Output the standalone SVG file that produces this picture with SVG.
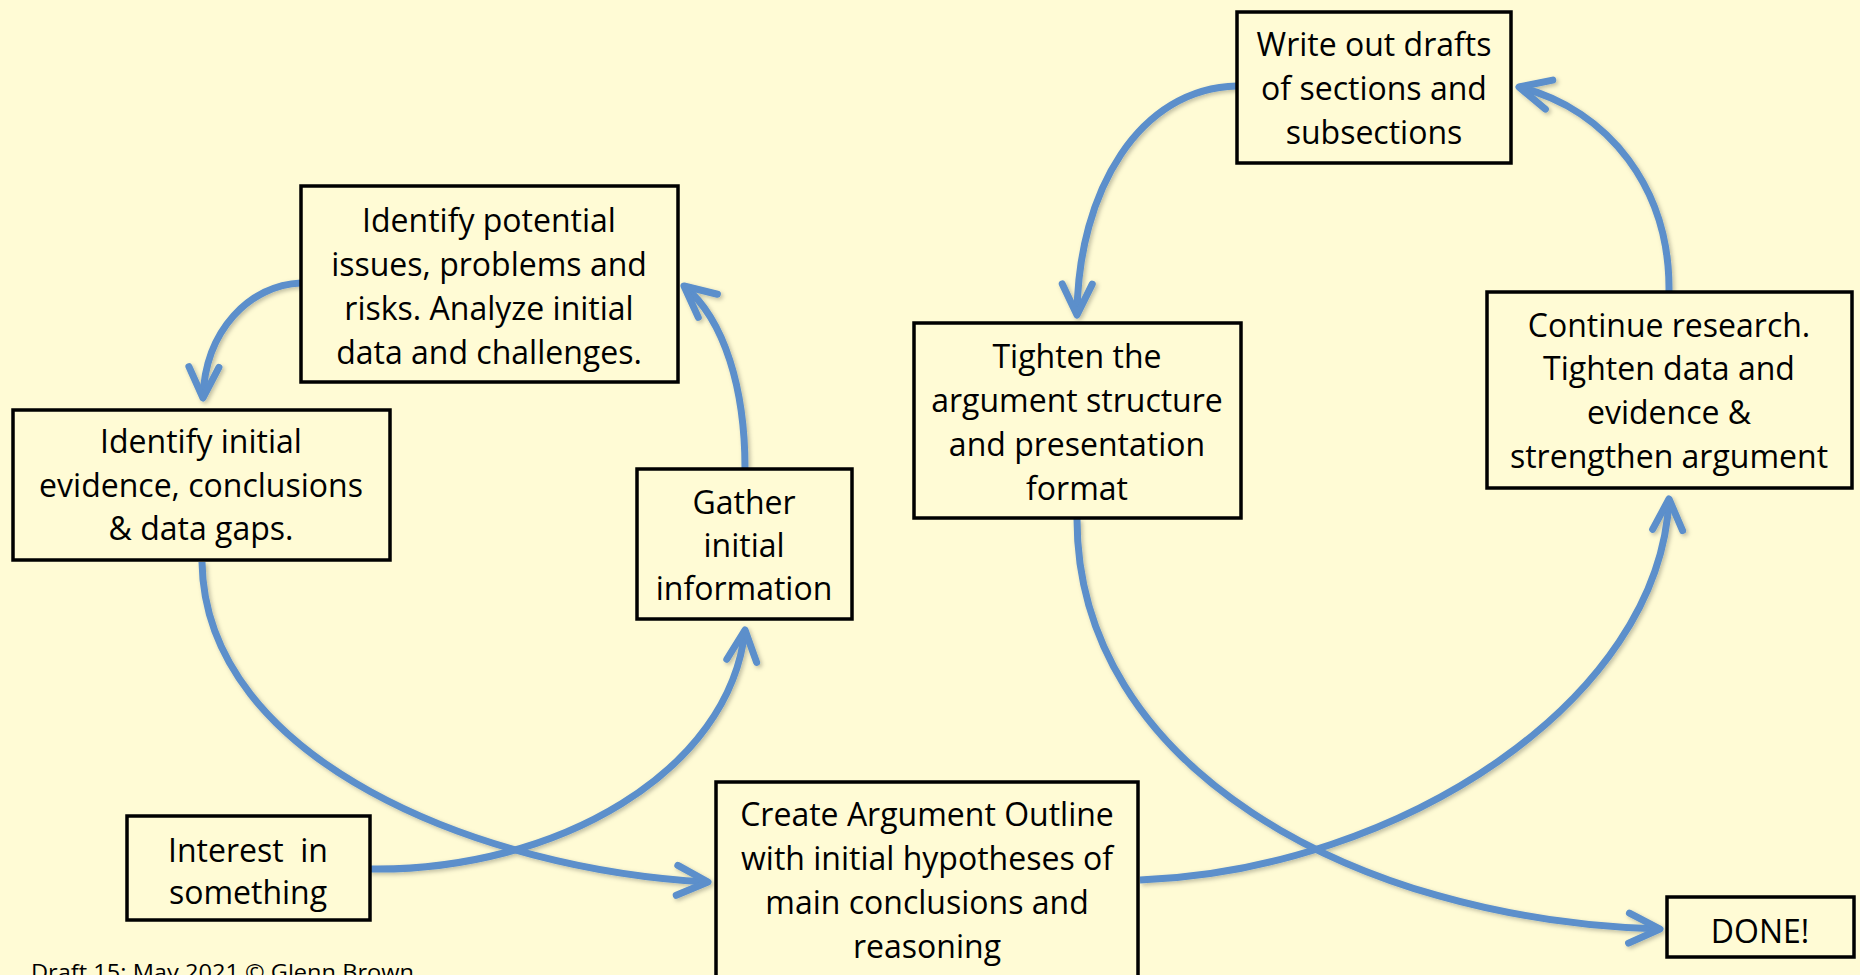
<svg xmlns="http://www.w3.org/2000/svg" width="1860" height="975" viewBox="0 0 1860 975">
<defs>
<style>
.box{fill:#FFFBD5;stroke:#000;stroke-width:3.5}
.t{font-family:"Open Sans","Noto Sans",sans-serif;font-size:32px;fill:#000;text-anchor:middle;white-space:pre}
.c{fill:none;stroke:#5B8FCB;stroke-width:7}
</style>
<marker id="ah" markerUnits="userSpaceOnUse" orient="auto" refX="0" refY="0" markerWidth="50" markerHeight="50" viewBox="-40 -25 50 50" overflow="visible">
<path d="M-31,-15 L0,0 L-31,15" fill="none" stroke="#5B8FCB" stroke-width="7" stroke-linecap="round" stroke-linejoin="round"/>
</marker>
<filter id="sh" x="-10%" y="-10%" width="120%" height="120%">
<feDropShadow dx="2" dy="2" stdDeviation="2" flood-color="#000" flood-opacity="0.25"/>
</filter>
</defs>
<rect x="0" y="0" width="1860" height="975" fill="#FFFBD5"/>
<g id="connectors" filter="url(#sh)">
<path class="c" d="M369,869 C557,872 730,771 745,630" marker-end="url(#ah)"/>
<path class="c" d="M202,562 C205,760 480,870 708,882" marker-end="url(#ah)"/>
<path class="c" d="M301,283 C250,285 205,330 203,398" marker-end="url(#ah)"/>
<path class="c" d="M745,468 C745,390 725,320 684,286" marker-end="url(#ah)"/>
<path class="c" d="M1140,880 C1400,870 1660,700 1669,499" marker-end="url(#ah)"/>
<path class="c" d="M1669,291 C1670,190 1610,110 1519,87" marker-end="url(#ah)"/>
<path class="c" d="M1237,86 C1140,88 1078,190 1077,315" marker-end="url(#ah)"/>
<path class="c" d="M1077,519 C1077,765 1350,920 1660,929" marker-end="url(#ah)"/>
</g>
<g id="n-write">
<rect class="box" x="1237" y="12" width="274" height="151"/>
<text class="t" x="1374" y="56">Write out drafts</text>
<text class="t" x="1374" y="100">of sections and</text>
<text class="t" x="1374" y="144">subsections</text>
</g>
<g id="n-issues">
<rect class="box" x="301" y="186" width="377" height="196"/>
<text class="t" x="489" y="232">Identify potential</text>
<text class="t" x="489" y="276">issues, problems and</text>
<text class="t" x="489" y="320">risks. Analyze initial</text>
<text class="t" x="489" y="364">data and challenges.</text>
</g>
<g id="n-evidence">
<rect class="box" x="13" y="410" width="377" height="150"/>
<text class="t" x="201" y="453">Identify initial</text>
<text class="t" x="201" y="497">evidence, conclusions</text>
<text class="t" x="201" y="540">&amp; data gaps.</text>
</g>
<g id="n-gather">
<rect class="box" x="637" y="469" width="215" height="150"/>
<text class="t" x="744" y="514">Gather</text>
<text class="t" x="744" y="557">initial</text>
<text class="t" x="744" y="600">information</text>
</g>
<g id="n-tighten">
<rect class="box" x="914" y="323" width="327" height="195"/>
<text class="t" x="1077" y="368">Tighten the</text>
<text class="t" x="1077" y="412">argument structure</text>
<text class="t" x="1077" y="456">and presentation</text>
<text class="t" x="1077" y="500">format</text>
</g>
<g id="n-continue">
<rect class="box" x="1487" y="292" width="365" height="196"/>
<text class="t" x="1669" y="337">Continue research.</text>
<text class="t" x="1669" y="380">Tighten data and</text>
<text class="t" x="1669" y="424">evidence &amp;</text>
<text class="t" x="1669" y="468">strengthen argument</text>
</g>
<g id="n-interest">
<rect class="box" x="127" y="816" width="243" height="104"/>
<text class="t" x="248" y="862">Interest  in</text>
<text class="t" x="248" y="904">something</text>
</g>
<g id="n-outline">
<rect class="box" x="716" y="782" width="422" height="220"/>
<text class="t" x="927" y="826">Create Argument Outline</text>
<text class="t" x="927" y="870">with initial hypotheses of</text>
<text class="t" x="927" y="914">main conclusions and</text>
<text class="t" x="927" y="958">reasoning</text>
</g>
<g id="n-done">
<rect class="box" x="1667" y="897" width="187" height="60"/>
<text class="t" x="1760" y="943">DONE!</text>
</g>
<text x="31" y="980" font-family="Open Sans, Noto Sans, sans-serif" font-size="21" fill="#000" textLength="383" lengthAdjust="spacingAndGlyphs">Draft 15: May 2021 © Glenn Brown</text>
</svg>
